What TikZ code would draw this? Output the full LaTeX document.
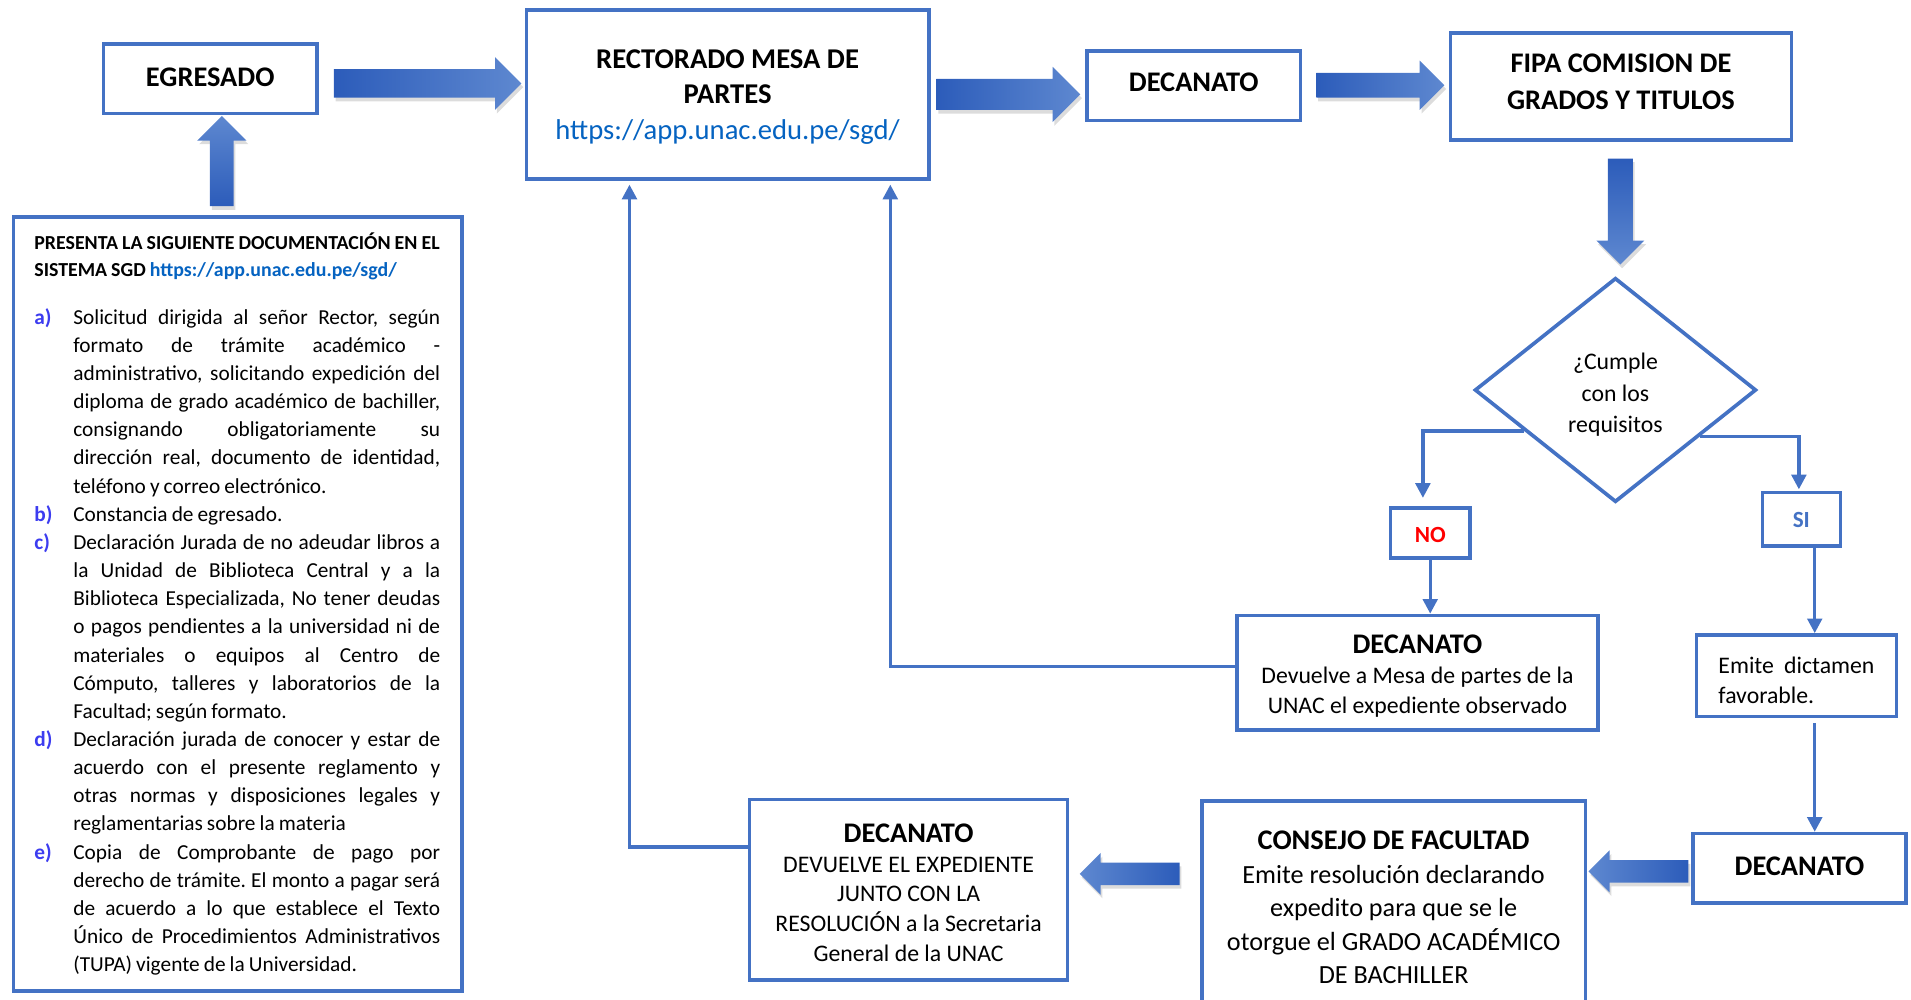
\documentclass[tikz,border=0pt]{standalone}
\usepackage{fontspec}
\setmainfont{Carlito}
\usetikzlibrary{shapes.geometric,shapes.arrows,arrows.meta,shadows,calc}
\definecolor{bblue}{RGB}{68,114,196}
\definecolor{adark}{RGB}{44,92,186}
\definecolor{alight}{RGB}{94,136,208}
\definecolor{linkc}{RGB}{5,99,193}
\definecolor{labc}{RGB}{60,60,240}
\newcommand\titf{\fontsize{23.3}{29}\selectfont\bfseries}
\newcommand\JustL[2]{\hbox{\hbox to 32pt{\textcolor{labc}{\bfseries #1}\hss}\hbox to 301pt{\spaceskip=0pt plus 1fil\relax #2}}}
\newcommand\LastL[2]{\hbox{\hbox to 32pt{\textcolor{labc}{\bfseries #1}\hss}\hbox to 301pt{#2\hss}}}
\frenchspacing
\begin{document}
\begin{tikzpicture}[x=1pt,y=-1pt,
  box/.style={draw=bblue, line width=3pt, fill=white, inner sep=0pt},
  txt/.style={inner sep=0pt, align=center, font=\fontsize{19.5}{24.5}\selectfont},
  conn/.style={draw=bblue, line width=2.7pt, -{Triangle[width=12pt,length=12pt]}},
  fat/.style={single arrow, draw=none, single arrow head indent=0pt,
    drop shadow={opacity=0.28, shadow xshift=1.5pt, shadow yshift=-3pt}},
  fatR/.style={fat, left color=adark, right color=alight},
  fatL/.style={fat, shape border rotate=180, left color=alight, right color=adark},
  fatU/.style={fat, shape border rotate=90, top color=alight, bottom color=adark},
  fatD/.style={fat, shape border rotate=270, top color=adark, bottom color=alight}]
\useasboundingbox (0,0) rectangle (1568,820.5);

% boxes
\node[box, minimum width=175pt, minimum height=57pt] (egr) at (172.5,64.5) {};
\node[txt, font=\titf] (egr-t) at ([yshift=1pt]egr.center) {EGRESADO};
\node[box, minimum width=330pt, minimum height=139pt] (rect) at (597,77.5) {};
\node[txt, font=\fontsize{23.5}{29}\selectfont] (rect-t) at ([yshift=-2pt]rect.center)
  {\textbf{RECTORADO MESA DE}\\\textbf{PARTES}\\\textcolor{linkc}{https://app.unac.edu.pe/sgd/}};
\node[box, minimum width=175pt, minimum height=57pt] (dec1) at (979.5,70.5) {};
\node[txt, font=\titf] (dec1-t) at ([yshift=3pt]dec1.center) {DECANATO};
\node[box, minimum width=280pt, minimum height=88pt] (fipa) at (1330,71) {};
\node[txt, font=\fontsize{23.3}{30}\selectfont\bfseries] (fipa-t) at ([yshift=4pt]fipa.center)
  {FIPA COMISION DE\\GRADOS Y TITULOS};
\node[box, diamond, minimum width=231pt, minimum height=184pt] (dia) at (1325.5,320) {};
\node[txt, font=\fontsize{19.5}{26}\selectfont] (dia-t) at ([yshift=-4pt]dia.center)
  {¿Cumple\\con los\\requisitos};
\node[box, minimum width=65pt, minimum height=41pt] (no) at (1173.5,437.5) {};
\node[txt, font=\fontsize{19}{24}\selectfont\bfseries, text=red] (no-t) at ([yshift=-1.5pt]no.center) {NO};
\node[box, minimum width=64pt, minimum height=44pt] (si) at (1478,426) {};
\node[txt, font=\fontsize{19}{24}\selectfont\bfseries, text=bblue] (si-t) at ([yshift=-0.5pt]si.center) {SI};
\node[box, minimum width=296pt, minimum height=94pt] (dec2) at (1163,552) {};
\node[txt] (dec2-t) at ([yshift=-3pt]dec2.center)
  {{\titf DECANATO}\\Devuelve a Mesa de partes de la\\UNAC el expediente observado};
\node[box, minimum width=164pt, minimum height=67pt] (emite) at (1474,554.5) {};
\node[txt, text width=128pt, align=left] (emite-t) at ([yshift=-4pt]emite.center)
  {\hbox to 128pt{Emite\hfill dictamen}\\favorable.};
\node[box, minimum width=175pt, minimum height=57pt] (dec3) at (1476.5,712.5) {};
\node[txt, font=\titf] (dec3-t) at ([yshift=2pt]dec3.center) {DECANATO};
\node[box, minimum width=315pt, minimum height=173pt] (cons) at (1143.5,743.5) {};
\node[txt, font=\fontsize{21.5}{27.5}\selectfont] (cons-t) at ([yshift=-1pt]cons.center)
  {{\titf CONSEJO DE FACULTAD}\\Emite resolución declarando\\expedito para que se le\\otorgue el GRADO ACADÉMICO\\DE BACHILLER};
\node[box, minimum width=261pt, minimum height=148pt] (dec4) at (745.5,730) {};
\node[txt] (dec4-t) at ([yshift=-2.5pt]dec4.center)
  {{\titf DECANATO}\\DEVUELVE EL EXPEDIENTE\\JUNTO CON LA\\RESOLUCIÓN a la Secretaria\\General de la UNAC};
\node[box, minimum width=368pt, minimum height=635pt] (list) at (195,495.5) {};

% list text
\node[anchor=north west, inner sep=0pt, text width=333pt, align=left] (ltxt) at (28,191) {%
\fontsize{16.3}{22}\selectfont\bfseries PRESENTA LA SIGUIENTE DOCUMENTACIÓN EN EL\\
SISTEMA SGD \textcolor{linkc}{https://app.unac.edu.pe/sgd/}\par
\vspace{16pt}\fontsize{17.5}{23.1}\selectfont\mdseries
\JustL{a)}{Solicitud dirigida al señor Rector, según}
\JustL{}{formato de trámite académico -}
\JustL{}{administrativo, solicitando expedición del}
\JustL{}{diploma de grado académico de bachiller,}
\JustL{}{consignando obligatoriamente su}
\JustL{}{dirección real, documento de identidad,}
\LastL{}{teléfono y correo electrónico.}
\LastL{b)}{Constancia de egresado.}
\JustL{c)}{Declaración Jurada de no adeudar libros a}
\JustL{}{la Unidad de Biblioteca Central y a la}
\JustL{}{Biblioteca Especializada, No tener deudas}
\JustL{}{o pagos pendientes a la universidad ni de}
\JustL{}{materiales o equipos al Centro de}
\JustL{}{Cómputo, talleres y laboratorios de la}
\LastL{}{Facultad; según formato.}
\JustL{d)}{Declaración jurada de conocer y estar de}
\JustL{}{acuerdo con el presente reglamento y}
\JustL{}{otras normas y disposiciones legales y}
\LastL{}{reglamentarias sobre la materia}
\JustL{e)}{Copia de Comprobante de pago por}
\JustL{}{derecho de trámite. El monto a pagar será}
\JustL{}{de acuerdo a lo que establece el Texto}
\JustL{}{Único de Procedimientos Administrativos}
\LastL{}{(TUPA) vigente de la Universidad.}};

% block arrows
\node[fatU, minimum height=74pt, inner sep=9.5pt, single arrow head extend=10.5pt] (aup) at (182,137) {};
\node[fatR, minimum height=154pt, inner sep=11.5pt, single arrow head extend=10pt] (a1) at (345,68.5) {};
\node[fatR, minimum height=118pt, inner sep=12.5pt, single arrow head extend=10pt] (a2) at (821,77.5) {};
\node[fatR, minimum height=105pt, inner sep=10pt, single arrow head extend=10pt] (a3) at (1127.5,70) {};
\node[fatD, minimum height=87pt, inner sep=10pt, single arrow head extend=9.5pt] (a4) at (1329.5,168.5) {};
\node[fatL, minimum height=82pt, inner sep=9pt, single arrow head extend=8pt] (a5) at (1349,715) {};
\node[fatL, minimum height=82pt, inner sep=9pt, single arrow head extend=8pt] (a6) at (931.5,717) {};

% thin connectors
\coordinate (nos) at ($(dia.west)!0.36!(dia.south)$);
\coordinate (sis) at ($(dia.east)!0.41!(dia.south)$);
\coordinate (sx) at ([xshift=11pt]si.south);
\draw[conn] (nos) -| ([xshift=-6pt,yshift=7pt]no.north);
\draw[conn] (no.south) -- (no.south |- dec2.north);
\draw[conn] (sis) -| ([xshift=-2pt,yshift=1pt]si.north);
\draw[conn] (sx) -- (sx |- emite.north);
\draw[conn] ($(sx |- emite.south)+(0,4)$) -- (sx |- dec3.north);
\draw[conn] ([yshift=5pt]dec2.west) -| ([xshift=-33pt,yshift=-3pt]rect.south east);
\draw[conn] ([yshift=35pt]dec4.west) -| ([xshift=86pt,yshift=-3pt]rect.south west);
\end{tikzpicture}
\end{document}
